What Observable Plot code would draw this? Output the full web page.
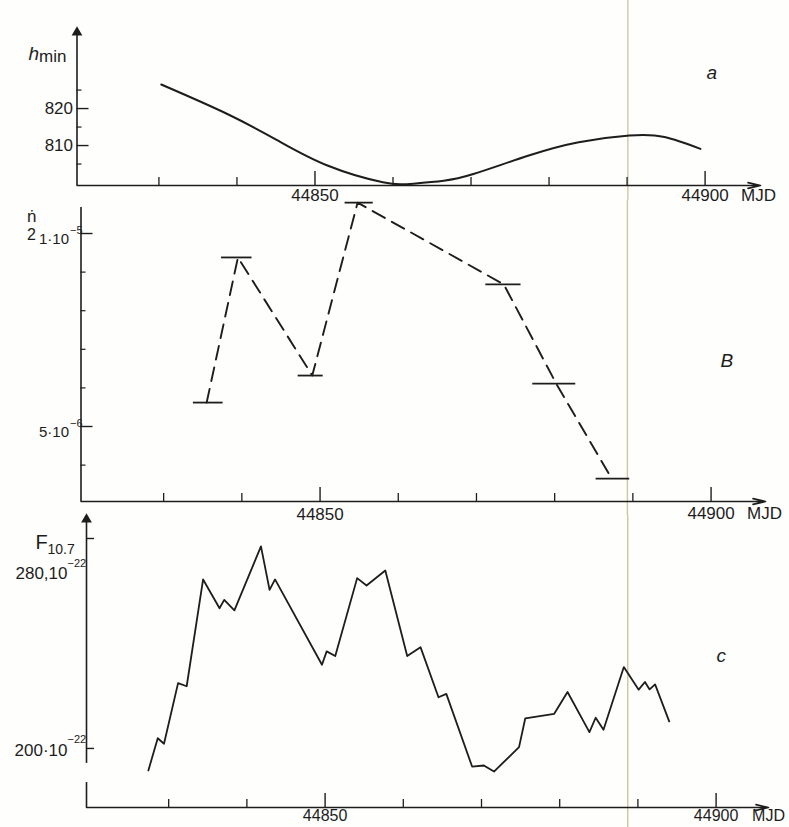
<!DOCTYPE html>
<html>
<head>
<meta charset="utf-8">
<script src="https://cdn.jsdelivr.net/npm/d3@7"></script>
<script src="https://cdn.jsdelivr.net/npm/@observablehq/plot@0.6"></script>
<style>
  html, body { margin: 0; padding: 0; background: #ffffff; }
  #chart { width: 789px; height: 827px; position: relative; overflow: hidden; background: #fefefc; }
  #chart svg { display: block; overflow: visible; }
</style>
</head>
<body>
<div id="chart"></div>
<script>
// ---------------- DATA ----------------
// Panel a: minimum height h_min (km) vs MJD
const hminMJD = [44830.3, 44838.7, 44845.2, 44851.6, 44858.7, 44862.6, 44866.5, 44870.3, 44877.4, 44883.8, 44890.3, 44894.8, 44899.4];
const hminKm  = [826.5, 818.6, 811.4, 804.6, 800.1, 799.7, 800.5, 802.3, 807.3, 810.9, 812.7, 812.3, 809.1];

// Panel b: n-dot/2 (units of 1e-6), averaging intervals and plotted point
const ndotMJD   = [44835.5, 44839.5, 44849.0, 44854.8, 44873.5, 44880.2, 44887.3];
const ndotFrom  = [44833.8, 44837.4, 44847.2, 44853.2, 44871.2, 44877.2, 44885.3];
const ndotTo    = [44837.6, 44841.3, 44850.4, 44856.8, 44875.7, 44882.7, 44889.6];
const ndotValue = [5.62, 9.38, 6.32, 10.80, 8.68, 6.11, 3.65];

// Panel c: F10.7 solar flux (units of 1e-22)
const fluxMJD = [44827.4, 44828.6, 44829.4, 44831.2, 44832.3, 44834.4, 44836.5, 44837.1, 44838.4, 44841.8,
                 44842.9, 44843.6, 44849.6, 44850.2, 44851.3, 44854.1, 44855.3, 44857.7, 44860.5, 44862.2,
                 44864.5, 44865.5, 44868.8, 44870.3, 44871.6, 44874.8, 44875.6, 44879.3, 44881.0, 44883.8,
                 44884.6, 44885.6, 44888.2, 44890.1, 44890.9, 44891.5, 44892.2, 44894.0];
const fluxValue = [191.6, 203.9, 201.8, 224.9, 223.7, 264.4, 253.4, 256.6, 252.6, 277.0,
                   260.4, 264.4, 231.9, 237.0, 235.2, 264.9, 262.1, 267.8, 235.2, 238.6,
                   219.5, 220.8, 193.1, 193.5, 191.2, 200.5, 211.5, 213.2, 221.5, 206.2,
                   211.7, 207.1, 231.0, 222.4, 225.3, 222.5, 224.4, 210.3];

// Axis ticks
const mjdMajorTicks = [44850, 44900];
const mjdMinorTicks = [44830, 44840, 44860, 44870, 44880, 44890];
const hminMajorTicks = [810, 820];
const hminMinorTicks = [805, 815, 825];
const ndotMajorTicks = [5, 10];
const ndotMinorTicks = [4, 6, 7, 8, 9];
const ndotTickBase = ["5·10", "1·10"];
const ndotTickExp  = ["−6", "−5"];
const fluxMajorTicks = [200, 280];
const fluxTickBase = ["200·10", "280,10"];
const fluxTickExp = ["−22", "−22"];
const fluxAxisUpper = [194.3, 288.0];   // broken F10.7 axis: upper piece
const fluxAxisLower = [177.5, 187.0];   // lower piece
const foldMJD = [44890.1, 44889.3, 44888.7]; // scan fold line, per panel

// ---------------- STYLE ----------------
const INK = "#1d1d1d";
const FOLD = "#cdc89e";
const FONT = "'Liberation Sans', Arial, Helvetica, sans-serif";

function axisMarks(g) {
  const H = g.height - g.mt - g.mb;
  const [x0, x1] = g.x, [y0] = g.y;
  return [
    Plot.ruleX([g.fold], {x: d => d, stroke: FOLD, strokeWidth: 1.4, insetTop: -g.mt, insetBottom: -g.mb}),
    Plot.arrow([0], {x1: () => x0, x2: () => x1, y1: () => y0, y2: () => y0,
      stroke: INK, strokeWidth: 1.6, headLength: 12, headAngle: 26}),
    Plot.tickX(mjdMinorTicks, {x: d => d, insetTop: H - 8, stroke: INK, strokeWidth: 1.3}),
    Plot.tickX(mjdMajorTicks, {x: d => d, insetTop: H - 14, stroke: INK, strokeWidth: 1.4}),
    Plot.text([44850], {x: d => d, y: () => y0, text: d => String(d), lineAnchor: "top", dy: g.lab1dy,
      fontSize: g.labSize, fontFamily: FONT, fill: INK}),
    Plot.text([44900], {x: d => d, y: () => y0, text: d => String(d), lineAnchor: "top", dy: g.lab2dy,
      fontSize: g.labSize, fontFamily: FONT, fill: INK}),
    Plot.text(["MJD"], {x: () => 44900, y: () => y0, lineAnchor: "top", dy: g.lab2dy, dx: 36,
      textAnchor: "start", fontSize: g.labSize, fontFamily: FONT, fill: INK}),
  ];
}

function render(g, marks) {
  return Plot.plot({
    width: g.width, height: g.height,
    marginLeft: g.ml, marginRight: g.mr, marginTop: g.mt, marginBottom: g.mb,
    x: {domain: g.x, axis: null},
    y: {domain: g.y, axis: null},
    style: {background: "transparent", overflow: "visible", fontFamily: FONT},
    marks
  });
}

const chart = document.getElementById("chart");

// ---------------- PANEL a ----------------
{
  const g = {width: 789, height: 200, ml: 76.5, mr: 29, mt: 30, mb: 15,
             x: [44819.5, 44907.1], y: [799.2, 841.1], fold: foldMJD[0], lab1dy: 3, lab2dy: 3, labSize: 17};
  const W = g.width - g.ml - g.mr;
  const idx = d3.range(hminMJD.length);
  chart.append(render(g, [
    ...axisMarks(g),
    Plot.ruleX([g.x[0]], {x: d => d, y1: () => g.y[0], y2: () => g.y[1], stroke: INK, strokeWidth: 1.6}),
    Plot.dot([0], {x: () => g.x[0], y: () => g.y[1], symbol: "triangle", r: 4, fill: INK, stroke: "none", dy: 2}),
    Plot.tickY(hminMajorTicks, {y: d => d, insetRight: W - 12, stroke: INK, strokeWidth: 1.4}),
    Plot.tickY(hminMinorTicks, {y: d => d, insetRight: W - 5, stroke: INK, strokeWidth: 1.2}),
    Plot.text(hminMajorTicks, {x: () => g.x[0], y: d => d, text: d => String(d), textAnchor: "end", dx: -4,
      fontSize: 17, fontFamily: FONT, fill: INK}),
    Plot.line(idx, {x: i => hminMJD[i], y: i => hminKm[i], curve: "natural", stroke: INK, strokeWidth: 2}),
    Plot.text(["h"], {frameAnchor: "top-left", dx: -48.5, dy: 16, textAnchor: "start",
      fontSize: 19, fontStyle: "italic", fontFamily: FONT, fill: INK}),
    Plot.text(["min"], {frameAnchor: "top-left", dx: -38, dy: 19, textAnchor: "start",
      fontSize: 17, fontFamily: FONT, fill: INK}),
    Plot.text(["a"], {frameAnchor: "top-left", dx: 629.5, dy: 35, fontSize: 19, fontStyle: "italic",
      fontFamily: FONT, fill: INK})
  ]));
}

// ---------------- PANEL b ----------------
{
  const g = {width: 789, height: 315, ml: 80.5, mr: 24, mt: 7, mb: 14,
             x: [44819.43, 44906.96], y: [3.057, 10.674], fold: foldMJD[1], lab1dy: 6, lab2dy: 5, labSize: 17};
  const W = g.width - g.ml - g.mr;
  const idx = d3.range(ndotMJD.length);
  chart.append(render(g, [
    ...axisMarks(g),
    Plot.ruleX([g.x[0]], {x: d => d, y1: () => g.y[0], y2: () => g.y[1], stroke: INK, strokeWidth: 1.6}),
    Plot.tickY(ndotMajorTicks, {y: d => d, insetRight: W - 12, stroke: INK, strokeWidth: 1.4}),
    Plot.tickY(ndotMinorTicks, {y: d => d, insetRight: W - 5, stroke: INK, strokeWidth: 1.2}),
    Plot.text([0, 1], {x: () => g.x[0], y: i => ndotMajorTicks[i], text: i => ndotTickBase[i],
      textAnchor: "end", dx: -12, dy: 6, fontSize: 15, fontFamily: FONT, fill: INK}),
    Plot.text([0, 1], {x: () => g.x[0], y: i => ndotMajorTicks[i], text: i => ndotTickExp[i],
      textAnchor: "start", dx: -11, dy: -3, fontSize: 11, fontFamily: FONT, fill: INK}),
    Plot.ruleY(idx, {x1: i => ndotFrom[i], x2: i => ndotTo[i], y: i => ndotValue[i], stroke: INK, strokeWidth: 1.8}),
    Plot.line(idx, {x: i => ndotMJD[i], y: i => ndotValue[i], stroke: INK, strokeWidth: 1.9,
      strokeDasharray: "14,8"}),
    Plot.text(["ṅ"], {frameAnchor: "top-left", dx: -54, dy: 2, fontSize: 17, fontFamily: FONT, fill: INK}),
    Plot.text(["2"], {frameAnchor: "top-left", dx: -54, dy: 21, fontSize: 16, fontFamily: FONT, fill: INK}),
    Plot.text(["B"], {frameAnchor: "top-left", dx: 639.5, dy: 146, fontSize: 19, fontStyle: "italic",
      fontFamily: FONT, fill: INK})
  ]));
}

// ---------------- PANEL c ----------------
{
  const g = {width: 789, height: 312, ml: 86, mr: 21, mt: 2, mb: 20,
             x: [44819.49, 44906.7], y: [177.5, 288.0], fold: foldMJD[2], lab1dy: 2, lab2dy: 2, labSize: 16};
  const W = g.width - g.ml - g.mr;
  const idx = d3.range(fluxMJD.length);
  chart.append(render(g, [
    ...axisMarks(g),
    Plot.ruleX([fluxAxisUpper, fluxAxisLower], {x: () => g.x[0], y1: d => d[0], y2: d => d[1], stroke: INK, strokeWidth: 1.6}),
    Plot.dot([0], {x: () => g.x[0], y: () => g.y[1], symbol: "triangle", r: 4, fill: INK, stroke: "none", dy: 2}),
    Plot.tickY(fluxMajorTicks, {y: d => d, insetRight: W - 8, stroke: INK, strokeWidth: 1.4}),
    // 200·10^-22 (label beside its tick)
    Plot.text([0], {x: () => g.x[0], y: i => fluxMajorTicks[i], text: i => fluxTickBase[i],
      textAnchor: "end", dx: -19, dy: 2, fontSize: 17, fontFamily: FONT, fill: INK}),
    Plot.text([0], {x: () => g.x[0], y: i => fluxMajorTicks[i], text: i => fluxTickExp[i],
      textAnchor: "start", dx: -19, dy: -9, fontSize: 11, fontFamily: FONT, fill: INK}),
    // 280,10^-22 (label below its tick)
    Plot.text([1], {x: () => g.x[0], y: i => fluxMajorTicks[i], text: i => fluxTickBase[i],
      textAnchor: "end", dx: -19, dy: 35, fontSize: 17, fontFamily: FONT, fill: INK}),
    Plot.text([1], {x: () => g.x[0], y: i => fluxMajorTicks[i], text: i => fluxTickExp[i],
      textAnchor: "start", dx: -19, dy: 25, fontSize: 11, fontFamily: FONT, fill: INK}),
    Plot.line(idx, {x: i => fluxMJD[i], y: i => fluxValue[i], stroke: INK, strokeWidth: 1.8}),
    Plot.text(["F"], {frameAnchor: "top-left", dx: -51, dy: 17, textAnchor: "start",
      fontSize: 20, fontFamily: FONT, fill: INK}),
    Plot.text(["10.7"], {frameAnchor: "top-left", dx: -39, dy: 27, textAnchor: "start",
      fontSize: 14, fontFamily: FONT, fill: INK}),
    Plot.text(["c"], {frameAnchor: "top-left", dx: 630, dy: 131, fontSize: 19, fontStyle: "italic",
      fontFamily: FONT, fill: INK})
  ]));
}
</script>
</body>
</html>
